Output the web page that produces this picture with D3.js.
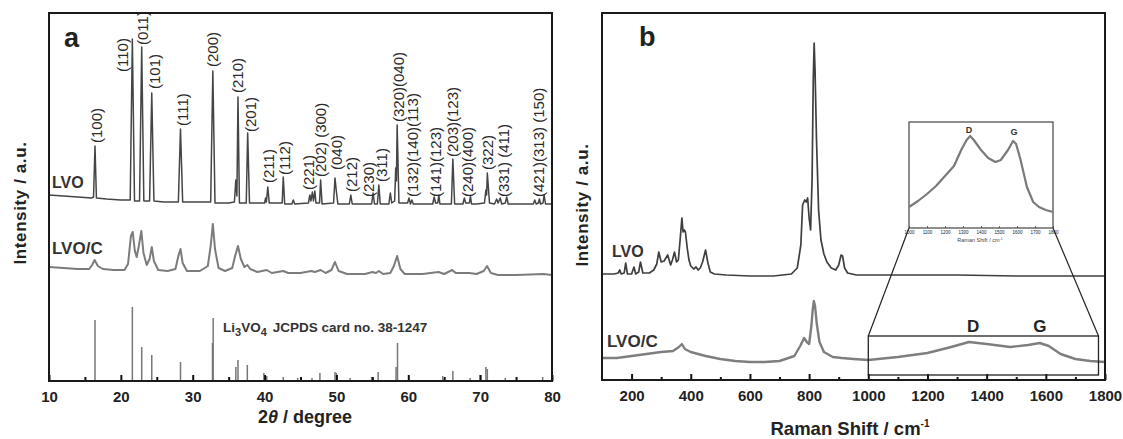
<!DOCTYPE html>
<html>
<head>
<meta charset="utf-8">
<script src="https://cdn.jsdelivr.net/npm/d3@7"></script>
<style>
  body { margin: 0; background: #fff; }
  text { font-family: "Liberation Sans", Arial, sans-serif; fill: #222; }
</style>
</head>
<body>
<div id="chart"></div>
<script>
// ---- data: panel a (XRD) ----
// [2theta, intensity a.u.]
var xrdLVO = [
  [10,186],[12,185],[14,184],[15.9,183],[16.2,184],[16.4,235],[16.6,183],[18,182],[20,181],
  [21.3,181],[21.6,342],[21.9,180],[22.6,180],[22.9,334],[23.2,180],[24.0,180],[24.3,288],[24.6,180],
  [26,179],[28.0,179],[28.3,252],[28.6,179],[30,179],[32.5,179],[32.8,310],[33.1,178],[35.0,178],
  [35.8,179],[36.0,201],[36.15,185],[36.3,284],[36.5,178],[37.45,178],[37.65,248],[37.9,178],
  [39.0,178],[40.0,178],[40.15,183],[40.25,179],[40.45,194],[40.65,178],[41.5,178],[42.45,178],
  [42.6,204],[42.8,177],[43.8,177],[44.0,181],[44.2,177],[46.1,178],[46.3,186],[46.45,180],
  [46.65,189],[46.8,180],[47.0,190],[47.15,178],[47.65,178],[47.8,201],[48.0,177],[49.6,178],
  [49.8,203],[50.0,189],[50.2,177],[51.8,177],[52.0,186],[52.2,177],[54.9,177],[55.1,188],
  [55.3,177],[55.7,177],[55.9,196],[56.1,177],[57.3,177],[57.5,188],[57.7,178],[58.1,180],
  [58.25,213],[58.35,200],[58.45,256],[58.7,178],[59.9,178],[60.1,183],[60.3,177],[60.5,181],
  [60.7,177],[63.4,177],[63.6,184],[63.8,178],[64.1,178],[64.25,186],[64.4,177],[66.0,177],
  [66.2,222],[66.45,177],[67.6,177],[67.8,183],[68.0,178],[68.5,178],[68.65,185],[68.8,177],
  [69.5,177],[70.6,178],[70.8,191],[70.9,186],[71.0,208],[71.3,178],[72.0,177],[72.3,182],
  [72.5,178],[72.8,183],[73.0,177],[73.5,178],[73.7,184],[73.9,177],[75.0,177],[77.4,177],
  [77.6,181],[77.8,177],[78.1,178],[78.25,182],[78.4,177],[78.75,178],[78.9,186],[79.1,177],[80,177]
];
var xrdLVOC = [
  [10,114],[12,113],[14,112],[15.6,112],[16.0,116],[16.35,121],[16.8,115],[17.5,112],[19,111],
  [20.5,111],[21.0,117],[21.4,145],[21.65,149],[21.95,130],[22.2,124],[22.5,135],[22.85,150],
  [23.15,128],[23.6,116],[24.0,122],[24.3,134],[24.6,120],[25.2,111],[26.5,110],[27.6,112],
  [28.0,125],[28.3,132],[28.6,118],[29.2,110],[31,110],[32.1,115],[32.5,135],[32.8,157],[33.1,132],
  [33.6,113],[34.5,110],[35.5,113],[35.9,125],[36.3,135],[36.7,122],[37.2,114],[37.6,116],[38.0,112],
  [39,109],[40.3,111],[41,108],[42.6,110],[43.3,108],[45,108],[46.5,110],[47.0,109],[47.8,111],
  [48.5,108],[49.3,111],[49.8,119],[50.3,110],[51.5,107],[54,107],[55,109],[55.5,108],[55.9,110],
  [56.5,107],[57.5,108],[58.0,115],[58.45,125],[58.9,112],[59.5,107],[62,107],[64.2,109],[65,107],
  [66.1,111],[66.6,108],[68.5,108],[69.5,107],[70.5,110],[70.95,115],[71.5,108],[72.5,106],
  [75,106],[78.8,107],[80,106]
];
// JCPDS 38-1247 reference lines [2theta, relative height]
var jcpdsSticks = [
  [16.4,61],[21.6,74],[22.9,34],[24.3,26],[28.3,19],[32.75,38],[32.85,63],[36.0,14],[36.3,21],
  [37.6,16],[39.9,8],[40.3,5],[42.6,4],[44.6,3],[46.6,3],[47.7,8],[49.8,9],[50.0,8],[51.9,3],
  [54.9,4],[55.8,9],[58.3,14],[58.5,38],[64.8,5],[66.2,10],[68.6,3],[70.0,6],[70.8,14],[71.0,12],
  [73.5,3],[78.7,4]
];
// hkl labels [2theta, intensity at label start, text]
var hklLabels = [
  [16.7,238,"(100)"],[20.3,309,"(110)"],[23.1,336,"(011)"],[24.75,292,"(101)"],[28.65,255,"(111)"],
  [32.8,314,"(200)"],[36.3,288,"(210)"],[38.1,249,"(201)"],[40.6,198,"(211)"],[42.85,206,"(112)"],
  [46.2,191,"(221)"],[47.85,204,"(202) (300)"],[50.1,211,"(040)"],[52.2,189,"(212)"],
  [54.5,184,"(230)"],[56.35,199,"(311)"],[58.7,259,"(320)(040)"],[60.65,184,"(132)(140)(113)"],
  [63.85,184,"(141)(123)"],[66.2,224,"(203)(123)"],[68.3,184,"(240)(400)"],[71.0,211,"(322)"],
  [73.3,184,"(331) (411)"],[78.2,184,"(421)(313) (150)"]
];
var xrdMajorTicks = [10,20,30,40,50,60,70,80];
var xrdMinorTicks = [15,25,35,45,55,65,75];

// ---- data: panel b (Raman) ----
// [Raman shift, intensity a.u.]
var ramanLVO = [
  [100,106],[140,106],[155,107],[160,110],[165,106],[175,107],[180,117],[186,106],[200,106],
  [208,113],[214,106],[224,108],[230,118],[238,107],[260,107],[275,110],[285,116],[292,128],
  [300,118],[310,119],[322,125],[332,115],[338,120],[345,128],[352,118],[358,120],[364,140],
  [370,162],[374,148],[378,150],[382,148],[388,132],[394,120],[400,114],[410,111],[418,113],
  [425,110],[432,112],[440,118],[450,130],[458,117],[466,108],[480,106],[520,105],[600,104],
  [680,104],[740,106],[760,112],[772,135],[778,175],[785,180],[790,178],[795,182],[800,162],
  [805,150],[810,200],[814,300],[817,337],[820,310],[825,240],[832,170],[840,140],[850,126],
  [860,118],[875,112],[890,110],[900,115],[908,125],[913,124],[920,112],[930,107],[960,105],
  [1100,105],[1300,105],[1500,104],[1800,104]
];
var ramanLVOC = [
  [100,22],[150,22],[200,24],[250,26],[300,28],[340,29],[360,33],[370,36],[380,31],[400,28],
  [450,24],[500,21],[550,19],[600,18],[650,18],[700,19],[750,24],[770,34],[783,42],[792,38],
  [800,36],[808,55],[812,70],[816,79],[820,74],[826,56],[835,38],[850,28],[880,23],[910,22],
  [950,21],[1000,20],[1100,23],[1200,27],[1280,33],[1340,38],[1400,36],[1480,33],[1540,35],
  [1580,37],[1610,34],[1650,26],[1700,21],[1750,19],[1800,18]
];
// magnified D/G region of LVO/C
var insetDG = [
  [1000,21],[1050,27],[1100,34],[1150,42],[1190,50],[1250,62],[1290,78],[1320,88],[1340,92],
  [1360,88],[1400,78],[1440,70],[1480,66],[1510,68],[1550,78],[1578,87],[1595,84],[1620,68],
  [1655,41],[1690,26],[1722,21],[1760,18],[1800,16]
];
var ramanMajorTicks = [200,400,600,800,1000,1200,1400,1600,1800];
var ramanMinorTicks = [300,500,700,900,1100,1300,1500,1700];
var insetTicks = [1000,1100,1200,1300,1400,1500,1600,1700,1800];
var zoomBox = { x0: 1000, x1: 1778, y0: 5, y1: 44 };

var svg = d3.select("#chart").append("svg")
  .attr("width", 1123).attr("height", 439)
  .style("background", "#fff");

// ================= panel a =================
var xA = d3.scaleLinear().domain([10, 80]).range([49, 552]);
var yA = d3.scaleLinear().domain([0, 368]).range([381, 13]);

var lineA = d3.line().x(d => xA(d[0])).y(d => yA(d[1]));

svg.append("path").datum(xrdLVOC)
  .attr("d", lineA).attr("fill", "none")
  .attr("stroke", "#7c7c7c").attr("stroke-width", 2).attr("stroke-linejoin", "round");
svg.append("path").datum(xrdLVO)
  .attr("d", lineA).attr("fill", "none")
  .attr("stroke", "#454545").attr("stroke-width", 1.5).attr("stroke-linejoin", "round");

svg.selectAll(".stick").data(jcpdsSticks).enter().append("line")
  .attr("x1", d => xA(d[0])).attr("x2", d => xA(d[0]))
  .attr("y1", yA(0)).attr("y2", d => yA(d[1]))
  .attr("stroke", "#777").attr("stroke-width", 1.5);

svg.selectAll(".hkl").data(hklLabels).enter().append("text")
  .attr("transform", d => `translate(${xA(d[0])},${yA(d[1])}) rotate(-90)`)
  .attr("dy", "0.35em")
  .style("font-size", "15px").style("fill", "#2a2a2a")
  .text(d => d[2]);

var bottomA = d3.axisBottom(xA).tickValues(xrdMajorTicks).tickFormat(d3.format("d"))
  .tickSizeInner(-6).tickSizeOuter(0).tickPadding(10);
var gA = svg.append("g").attr("transform", `translate(0,${yA(0)})`).call(bottomA);
gA.select(".domain").remove();
gA.selectAll(".tick line").attr("stroke", "#111").attr("stroke-width", 2);
gA.selectAll("text").style("font-size", "15px").style("font-weight", "bold").attr("fill", "#222");

var minorA = d3.axisBottom(xA).tickValues(xrdMinorTicks).tickSizeInner(-4).tickSizeOuter(0).tickFormat("");
var gAm = svg.append("g").attr("transform", `translate(0,${yA(0)})`).call(minorA);
gAm.select(".domain").remove();
gAm.selectAll(".tick line").attr("stroke", "#111").attr("stroke-width", 2);

svg.append("rect").attr("x", 49).attr("y", 13).attr("width", 503).attr("height", 368)
  .attr("fill", "none").attr("stroke", "#1a1a1a").attr("stroke-width", 2);

svg.append("text").attr("x", 64).attr("y", 47)
  .style("font-size", "27px").style("font-weight", "bold").text("a");
svg.append("text").attr("x", 52).attr("y", 188)
  .style("font-size", "16px").style("font-weight", "bold").style("fill", "#333").text("LVO");
svg.append("text").attr("x", 52).attr("y", 254)
  .style("font-size", "17px").style("font-weight", "bold").style("fill", "#333").text("LVO/C");

var jc = svg.append("text").attr("x", 223).attr("y", 332)
  .style("font-size", "13.5px").style("font-weight", "bold").style("fill", "#333");
jc.append("tspan").text("Li");
jc.append("tspan").attr("dy", 4).style("font-size", "11px").text("3");
jc.append("tspan").attr("dy", -4).text("VO");
jc.append("tspan").attr("dy", 4).style("font-size", "11px").text("4");
jc.append("tspan").attr("dy", -4).attr("dx", 6).text("JCPDS card no. 38-1247");

var tA = svg.append("text").attr("x", 305).attr("y", 423).attr("text-anchor", "middle")
  .style("font-size", "18px").style("font-weight", "bold");
tA.append("tspan").text("2");
tA.append("tspan").style("font-style", "italic").text("θ");
tA.append("tspan").text(" / degree");

svg.append("text").attr("transform", "translate(20,203) rotate(-90)")
  .attr("text-anchor", "middle").attr("dy", "0.35em")
  .style("font-size", "17px").style("font-weight", "bold").style("letter-spacing", "0.6px")
  .text("Intensity / a.u.");

// ================= panel b =================
var xB = d3.scaleLinear().domain([100, 1800]).range([602, 1105]);
var yB = d3.scaleLinear().domain([0, 367]).range([380, 13]);
var lineB = d3.line().x(d => xB(d[0])).y(d => yB(d[1]));

svg.append("path").datum(ramanLVOC)
  .attr("d", lineB).attr("fill", "none")
  .attr("stroke", "#7e7e7e").attr("stroke-width", 2.4).attr("stroke-linejoin", "round");
svg.append("path").datum(ramanLVO)
  .attr("d", lineB).attr("fill", "none")
  .attr("stroke", "#3f3f3f").attr("stroke-width", 1.7).attr("stroke-linejoin", "round");

var bottomB = d3.axisBottom(xB).tickValues(ramanMajorTicks).tickFormat(d3.format("d"))
  .tickSizeInner(-6).tickSizeOuter(0).tickPadding(10);
var gB = svg.append("g").attr("transform", `translate(0,${yB(0)})`).call(bottomB);
gB.select(".domain").remove();
gB.selectAll(".tick line").attr("stroke", "#111").attr("stroke-width", 2);
gB.selectAll("text").style("font-size", "15px").style("font-weight", "bold").attr("fill", "#222");
var minorB = d3.axisBottom(xB).tickValues(ramanMinorTicks).tickSizeInner(-3).tickSizeOuter(0).tickFormat("");
var gBm = svg.append("g").attr("transform", `translate(0,${yB(0)})`).call(minorB);
gBm.select(".domain").remove();
gBm.selectAll(".tick line").attr("stroke", "#111").attr("stroke-width", 2);

svg.append("rect").attr("x", 602).attr("y", 13).attr("width", 503).attr("height", 367)
  .attr("fill", "none").attr("stroke", "#1a1a1a").attr("stroke-width", 2);

// zoom box around D/G region
svg.append("rect")
  .attr("x", xB(zoomBox.x0)).attr("y", yB(zoomBox.y1))
  .attr("width", xB(zoomBox.x1) - xB(zoomBox.x0)).attr("height", yB(zoomBox.y0) - yB(zoomBox.y1))
  .attr("fill", "none").attr("stroke", "#222").attr("stroke-width", 1.3);

svg.append("text").attr("x", 612).attr("y", 257)
  .style("font-size", "16px").style("font-weight", "bold").style("fill", "#333").text("LVO");
svg.append("text").attr("x", 607).attr("y", 347)
  .style("font-size", "17px").style("font-weight", "bold").style("fill", "#333").text("LVO/C");
svg.append("text").attr("x", xB(1354)).attr("y", yB(48)).attr("text-anchor", "middle")
  .style("font-size", "17px").style("font-weight", "bold").text("D");
svg.append("text").attr("x", xB(1580)).attr("y", yB(48)).attr("text-anchor", "middle")
  .style("font-size", "17px").style("font-weight", "bold").text("G");
svg.append("text").attr("x", 639).attr("y", 46)
  .style("font-size", "27px").style("font-weight", "bold").text("b");

var tB = svg.append("text").attr("x", 850).attr("y", 435).attr("text-anchor", "middle")
  .style("font-size", "18.5px").style("font-weight", "bold");
tB.append("tspan").text("Raman Shift / cm");
tB.append("tspan").attr("dy", -8).style("font-size", "10px").text("-1");

svg.append("text").attr("transform", "translate(582,205) rotate(-90)")
  .attr("text-anchor", "middle").attr("dy", "0.35em")
  .style("font-size", "17px").style("font-weight", "bold").style("letter-spacing", "0.6px")
  .text("Intensity / a.u.");

// ---- inset ----
var xI = d3.scaleLinear().domain([1000, 1800]).range([909, 1053]);
var yI = d3.scaleLinear().domain([0, 106]).range([228, 122]);

svg.append("line").attr("x1", xB(zoomBox.x0)).attr("y1", yB(zoomBox.y1))
  .attr("x2", xI(1000)).attr("y2", yI(0)).attr("stroke", "#222").attr("stroke-width", 1.2);
svg.append("line").attr("x1", xB(zoomBox.x1)).attr("y1", yB(zoomBox.y1))
  .attr("x2", xI(1800)).attr("y2", yI(0)).attr("stroke", "#222").attr("stroke-width", 1.2);

svg.append("rect").attr("x", 909).attr("y", 122).attr("width", 144).attr("height", 106)
  .attr("fill", "#fff").attr("stroke", "#444").attr("stroke-width", 1.2);

svg.append("path").datum(insetDG)
  .attr("d", d3.line().x(d => xI(d[0])).y(d => yI(d[1])))
  .attr("fill", "none").attr("stroke", "#7a7a7a").attr("stroke-width", 2.2).attr("stroke-linejoin", "round");

var axI = d3.axisBottom(xI).tickValues(insetTicks).tickFormat(d3.format("d"))
  .tickSizeInner(-2).tickSizeOuter(0).tickPadding(3);
var gI = svg.append("g").attr("transform", `translate(0,${yI(0)})`).call(axI);
gI.select(".domain").remove();
gI.selectAll(".tick line").attr("stroke", "#444").attr("stroke-width", 0.8);
gI.selectAll("text").style("font-size", "4.5px").attr("fill", "#444");

var tI = svg.append("text").attr("x", 980).attr("y", 242).attr("text-anchor", "middle")
  .style("font-size", "5.5px").style("fill", "#444");
tI.append("tspan").text("Raman Shift / cm");
tI.append("tspan").attr("dy", -2).style("font-size", "3.5px").text("-1");

svg.append("text").attr("x", xI(1333)).attr("y", yI(95)).attr("text-anchor", "middle")
  .style("font-size", "9px").style("font-weight", "bold").style("fill", "#333").text("D");
svg.append("text").attr("x", xI(1583)).attr("y", yI(93)).attr("text-anchor", "middle")
  .style("font-size", "9px").style("font-weight", "bold").style("fill", "#333").text("G");
</script>
</body>
</html>
